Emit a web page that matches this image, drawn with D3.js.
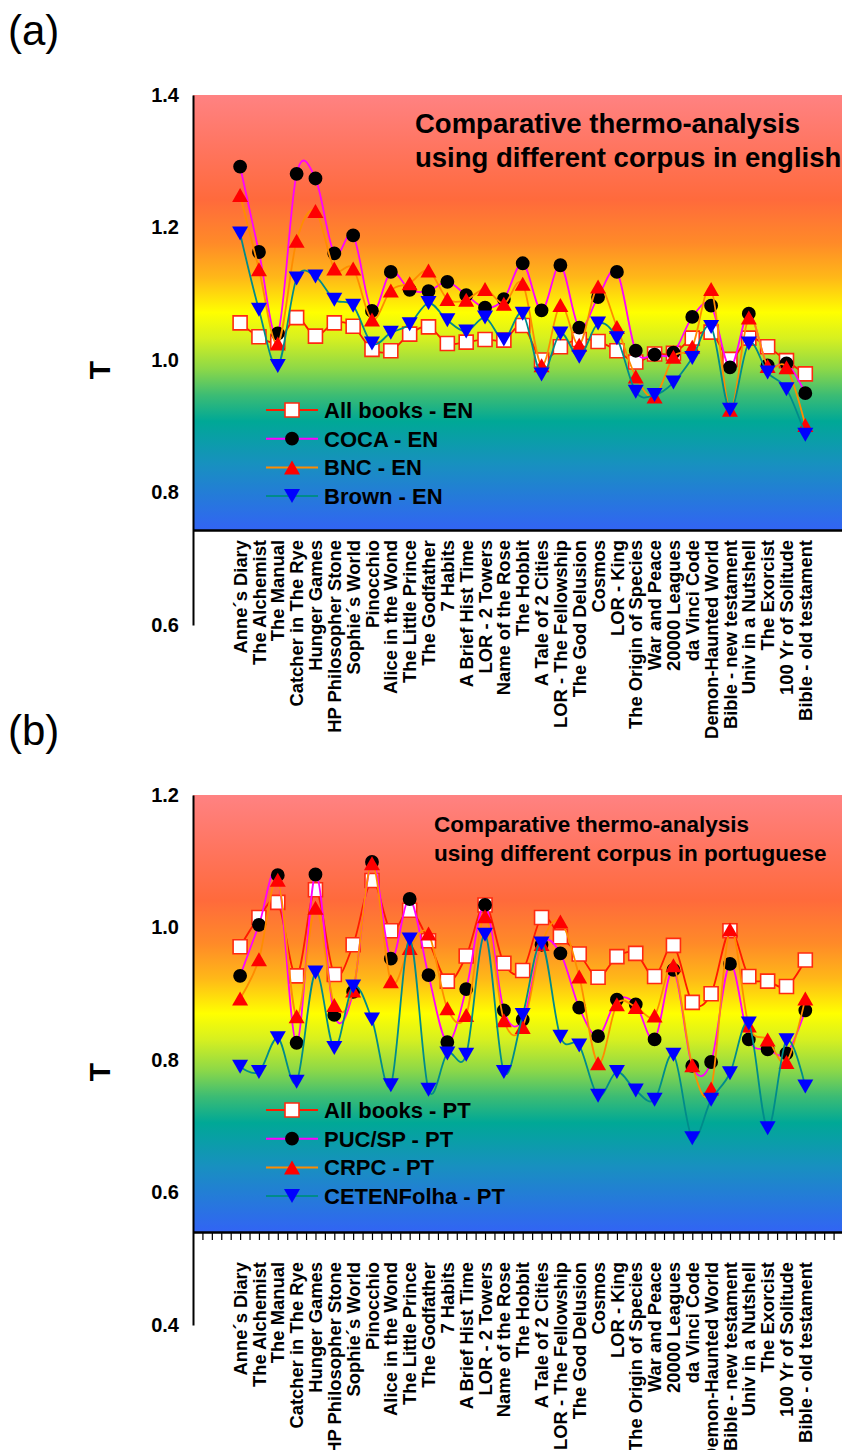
<!DOCTYPE html>
<html>
<head>
<meta charset="utf-8">
<script src="https://cdn.jsdelivr.net/npm/d3@7"></script>
<style>
body { margin: 0; background: #fff; }
text { font-family: "Liberation Sans", Arial, sans-serif; }
</style>
</head>
<body>
<div id="chart"></div>
<script>
// book titles on the x axis
var books = ["Anne\u00b4s Diary", "The Alchemist", "The Manual", "Catcher in The Rye", "Hunger Games",
  "HP Philosopher Stone", "Sophie\u00b4s World", "Pinocchio", "Alice in the Wond", "The Little Prince",
  "The Godfather", "7 Habits", "A Brief Hist Time", "LOR - 2 Towers", "Name of the Rose", "The Hobbit",
  "A Tale of 2 Cities", "LOR - The Fellowship", "The God Delusion", "Cosmos", "LOR - King",
  "The Origin of Species", "War and Peace", "20000 Leagues", "da Vinci Code", "Demon-Haunted World",
  "Bible - new testament", "Univ in a Nutshell", "The Exorcist", "100 Yr of Solitude", "Bible - old testament"];

// (a) english corpora
var allBooksEN = [1.056, 1.035, 1.028, 1.064, 1.036, 1.056, 1.051, 1.016, 1.014, 1.039, 1.050, 1.025, 1.027, 1.031, 1.030,
  1.052, 1.000, 1.020, 1.031, 1.028, 1.014, 0.997, 1.009, 1.010, 1.033, 1.042, 1.001, 1.033, 1.020, 0.999, 0.979];
var cocaEN = [1.292, 1.163, 1.040, 1.281, 1.274, 1.161, 1.188, 1.074, 1.133, 1.106, 1.104, 1.118, 1.098, 1.079, 1.092,
  1.146, 1.075, 1.143, 1.049, 1.095, 1.133, 1.014, 1.008, 1.011, 1.065, 1.082, 0.989, 1.070, 0.992, 0.995, 0.950];
var bncEN = [1.249, 1.137, 1.025, 1.180, 1.225, 1.138, 1.138, 1.061, 1.105, 1.116, 1.135, 1.092, 1.091, 1.107, 1.085,
  1.115, 0.992, 1.083, 1.023, 1.111, 1.050, 0.975, 0.945, 1.005, 1.020, 1.107, 0.925, 1.064, 0.991, 0.989, 0.902];
var brownEN = [1.191, 1.076, 0.991, 1.123, 1.126, 1.091, 1.082, 1.025, 1.041, 1.054, 1.086, 1.060, 1.043, 1.064, 1.031,
  1.070, 0.978, 1.040, 1.005, 1.055, 1.033, 0.952, 0.947, 0.966, 1.003, 1.050, 0.925, 1.025, 0.981, 0.956, 0.887];

// (b) portuguese corpora
var allBooksPT = [0.971, 1.015, 1.038, 0.927, 1.057, 0.929, 0.974, 1.071, 0.995, 1.026, 0.980, 0.919, 0.957, 1.034, 0.946,
  0.935, 1.015, 0.986, 0.960, 0.925, 0.956, 0.961, 0.926, 0.973, 0.887, 0.900, 0.995, 0.926, 0.919, 0.911, 0.951];
var pucPT = [0.927, 1.004, 1.079, 0.826, 1.080, 0.868, 0.903, 1.099, 0.953, 1.043, 0.928, 0.827, 0.907, 1.034, 0.875,
  0.861, 0.974, 0.961, 0.879, 0.836, 0.891, 0.884, 0.831, 0.936, 0.791, 0.797, 0.945, 0.831, 0.816, 0.810, 0.875];
var crpcPT = [0.893, 0.952, 1.072, 0.866, 1.030, 0.883, 0.905, 1.097, 0.919, 0.969, 0.991, 0.878, 0.868, 1.017, 0.860,
  0.850, 0.975, 1.009, 0.926, 0.795, 0.884, 0.880, 0.867, 0.943, 0.792, 0.757, 0.997, 0.852, 0.831, 0.797, 0.893];
var cetenPT = [0.790, 0.782, 0.833, 0.767, 0.932, 0.818, 0.911, 0.861, 0.762, 0.982, 0.755, 0.810, 0.808, 0.989, 0.782,
  0.868, 0.976, 0.835, 0.822, 0.746, 0.782, 0.754, 0.740, 0.808, 0.682, 0.740, 0.780, 0.855, 0.697, 0.830, 0.760];

var ticksA = [0.6, 0.8, 1.0, 1.2, 1.4];
var ticksB = [0.4, 0.6, 0.8, 1.0, 1.2];

var svg = d3.select("#chart").append("svg")
    .attr("width", 842)
    .attr("height", 1450);

// thermo background
var grad = svg.append("defs").append("linearGradient")
    .attr("id", "thermo")
    .attr("x1", 0).attr("y1", 0).attr("x2", 0).attr("y2", 1);
[[0, "#ff8282"], [0.12, "#ff7560"], [0.24, "#ff6a3c"], [0.34, "#ff8a28"], [0.42, "#ffb818"],
 [0.5, "#ffff00"], [0.56, "#d6f020"], [0.63, "#8cd848"], [0.69, "#3cbc74"], [0.75, "#00a896"],
 [0.85, "#1890c0"], [1, "#3264f4"]].forEach(function(s) {
    grad.append("stop").attr("offset", s[0]).attr("stop-color", s[1]);
});

var x = d3.scaleLinear().domain([-2.5, 32]).range([193, 843]);

var styles = [
    {line: "#ff1a00", marker: "square"},
    {line: "#ff00ff", marker: "circle"},
    {line: "#ff8c00", marker: "up"},
    {line: "#008b8b", marker: "down"}
];

function markerPath(type) {
    if (type == "square") return "M-7,-7H7V7H-7Z";
    if (type == "up") return "M0,-7L8,7H-8Z";
    if (type == "down") return "M0,7L8,-7H-8Z";
    return d3.symbol(d3.symbolCircle, 150)();
}

function addMarker(sel, type) {
    sel.append("path")
        .attr("d", markerPath(type))
        .attr("fill", type == "square" ? "#fff" : type == "circle" ? "#000" : type == "up" ? "#ff0000" : "#0000ff")
        .attr("stroke", type == "square" ? "#ff2a10" : "none")
        .attr("stroke-width", 1.6);
}

function drawPanel(p) {
    var y = d3.scaleLinear().domain(p.domain).range([p.bottom, p.top]);
    var g = svg.append("g");

    g.append("rect")
        .attr("x", x(-2.5)).attr("y", p.top)
        .attr("width", 842 - x(-2.5)).attr("height", p.axisY - p.top)
        .attr("fill", "url(#thermo)");

    // panel letter
    g.append("text")
        .attr("x", 8).attr("y", p.letterY)
        .attr("font-size", 42)
        .text(p.letter);

    // y axis
    var yAxis = g.append("g")
        .attr("transform", "translate(" + x(-2.5) + ",0)")
        .call(d3.axisLeft(y).tickValues(p.ticks).tickSize(0).tickSizeOuter(0)
            .tickPadding(14).tickFormat(d3.format(".1f")));
    yAxis.select(".domain").attr("stroke", "#000").attr("stroke-width", 2);
    yAxis.selectAll("text").attr("font-size", 20).attr("font-weight", "bold").attr("fill", "#000")
        .attr("font-family", "Liberation Sans, Arial, sans-serif");

    g.append("text")
        .attr("transform", "translate(110," + p.tLabelY + ") rotate(-90)")
        .attr("text-anchor", "middle")
        .attr("font-size", 30).attr("font-weight", "bold")
        .text("T");

    // x axis
    var xAxis = g.append("g")
        .attr("transform", "translate(0," + p.axisY + ")")
        .call(d3.axisBottom(x).tickValues(p.minorTicks ? d3.range(-2, 32, 0.5) : [])
            .tickSize(p.minorTicks ? 8 : 0).tickSizeOuter(0).tickFormat(""));
    xAxis.select(".domain").attr("stroke", "#000").attr("stroke-width", 2.5);
    xAxis.selectAll(".tick line").attr("stroke", "#000").attr("stroke-width", 1.2);

    g.selectAll(".book")
        .data(books)
        .enter()
        .append("text")
        .attr("transform", function(d, i) {
            return "translate(" + x(i) + "," + p.labelY + ") rotate(-90)";
        })
        .attr("dy", "0.36em")
        .attr("text-anchor", "end")
        .attr("font-size", 18.4).attr("font-weight", "bold")
        .text(function(d) { return d; });

    // title
    g.append("text")
        .attr("x", p.titleX).attr("y", p.titleY)
        .attr("font-size", p.titleSize).attr("font-weight", "bold")
        .text("Comparative thermo-analysis");
    g.append("text")
        .attr("x", p.titleX).attr("y", p.titleY + p.titleGap)
        .attr("font-size", p.titleSize).attr("font-weight", "bold")
        .text(p.title2);

    var line = d3.line()
        .x(function(d, i) { return x(i); })
        .y(function(d) { return y(d); })
        .curve(d3.curveCardinal.tension(0));

    p.series.forEach(function(s, k) {
        var st = styles[k];
        g.append("path")
            .datum(s)
            .attr("d", line)
            .attr("fill", "none")
            .attr("stroke", st.line)
            .attr("stroke-width", 1.8);

        var m = g.selectAll(".m" + k)
            .data(s)
            .enter()
            .append("g")
            .attr("transform", function(d, i) {
                return "translate(" + x(i) + "," + y(d) + ")";
            });
        addMarker(m, st.marker);
    });

    // legend
    p.names.forEach(function(name, k) {
        var ly = p.legendY + k * 28.7;
        var lg = g.append("g");
        lg.append("line")
            .attr("x1", 266).attr("x2", 318).attr("y1", ly).attr("y2", ly)
            .attr("stroke", styles[k].line).attr("stroke-width", 2);
        addMarker(lg.append("g").attr("transform", "translate(292," + ly + ")"), styles[k].marker);
        lg.append("text")
            .attr("x", 324).attr("y", ly + 8)
            .attr("font-size", 22).attr("font-weight", "bold")
            .text(name);
    });
}

drawPanel({
    domain: [0.6, 1.4], bottom: 625, top: 95, axisY: 530, ticks: ticksA,
    letter: "(a)", letterY: 45, tLabelY: 370, labelY: 540, minorTicks: false,
    titleX: 415, titleY: 133, titleGap: 34, titleSize: 27.5,
    title2: "using different corpus in english",
    series: [allBooksEN, cocaEN, bncEN, brownEN],
    names: ["All books - EN", "COCA - EN", "BNC - EN", "Brown - EN"],
    legendY: 410
});

drawPanel({
    domain: [0.4, 1.2], bottom: 1325, top: 795, axisY: 1232, ticks: ticksB,
    letter: "(b)", letterY: 745, tLabelY: 1072, labelY: 1262, minorTicks: true,
    titleX: 434, titleY: 832, titleGap: 28.5, titleSize: 22.5,
    title2: "using different corpus in portuguese",
    series: [allBooksPT, pucPT, crpcPT, cetenPT],
    names: ["All books - PT", "PUC/SP - PT", "CRPC - PT", "CETENFolha - PT"],
    legendY: 1110
});
</script>
</body>
</html>
